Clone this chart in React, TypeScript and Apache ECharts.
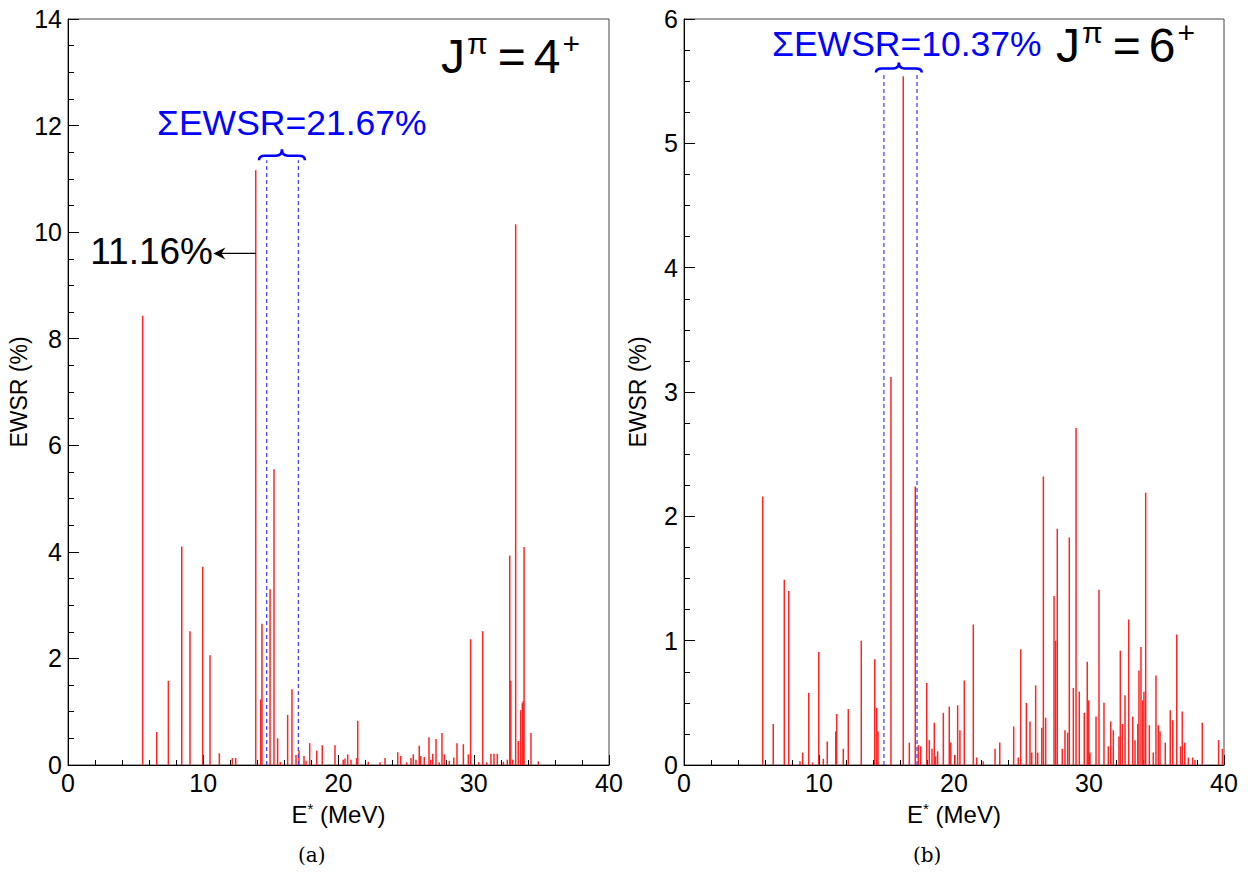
import React, { useEffect, useRef } from "react";
import * as echarts from "echarts";

// ---------- data ----------
// Panel (a): J^pi = 4+
const energies4 = [
  5.52, 6.56, 7.42, 8.41, 9.02, 9.96, 10.5, 11.19, 12.15, 12.4,
  13.88, 14.25, 14.34, 14.94, 15.23, 15.5, 15.7, 16.24, 16.56, 16.86,
  17.08, 17.45, 17.6, 17.87, 18.39, 18.8, 19.74, 20.35, 20.48, 20.68,
  20.92, 21.34, 21.42, 22.2, 23.07, 23.44, 24.38, 24.6, 25.04, 25.36,
  25.53, 25.73, 25.97, 26.08, 26.34, 26.69, 26.82, 26.97, 27.21, 27.45,
  27.65, 27.82, 28.19, 28.52, 28.76, 29.23, 29.6, 29.77, 30.37, 30.66,
  30.96, 31.27, 31.5, 31.74, 32.19, 32.48, 32.66, 32.74, 32.88, 33.1,
  33.29, 33.47, 33.59, 33.66, 33.72, 34.23, 34.77,
];
const ewsr4 = [
  8.43, 0.62, 1.58, 4.1, 2.51, 3.72, 2.06, 0.22, 0.13, 0.13,
  11.16, 1.23, 2.65, 3.3, 5.55, 0.5, 0.06, 0.94, 1.42, 0.19,
  0.27, 0.17, 0.08, 0.41, 0.27, 0.37, 0.37, 0.1, 0.12, 0.2,
  0.1, 0.13, 0.83, 0.06, 0.05, 0.13, 0.24, 0.17, 0.05, 0.13,
  0.2, 0.1, 0.36, 0.17, 0.15, 0.52, 0.1, 0.21, 0.49, 0.05,
  0.6, 0.2, 0.08, 0.14, 0.41, 0.39, 0.2, 2.36, 0.05, 2.51,
  0.05, 0.21, 0.21, 0.21, 0.06, 0.1, 3.93, 1.58, 0.1, 10.15,
  0.45, 1.03, 1.16, 1.2, 4.09, 0.6, 0.07,
];

// Panel (b): J^pi = 6+
const energies6 = [
  5.83, 6.61, 7.43, 7.76, 8.59, 8.79, 9.24, 9.53, 9.98, 10.32,
  10.61, 11.24, 11.31, 11.8, 12.17, 13.13, 14.13, 14.27, 14.37, 15.33,
  16.24, 16.69, 17.13, 17.36, 17.53, 17.98, 18.17, 18.37, 18.54, 18.64,
  18.79, 19.21, 19.65, 19.76, 20.07, 20.27, 20.44, 20.76, 21.43, 21.68,
  22.17, 23.04, 23.39, 24.42, 24.76, 24.94, 25.36, 25.63, 25.76, 26.05,
  26.2, 26.5, 26.62, 26.79, 27.41, 27.53, 27.65, 28.02, 28.22, 28.42,
  28.54, 28.84, 29.04, 29.28, 29.65, 29.87, 29.98, 30.07, 30.52, 30.74,
  31.11, 31.43, 31.61, 31.8, 32.22, 32.32, 32.47, 32.67, 32.94, 33.24,
  33.41, 33.61, 33.7, 33.85, 33.98, 34.07, 34.2, 34.47, 34.76, 34.96,
  35.13, 35.26, 35.65, 36.02, 36.2, 36.5, 36.79, 36.91, 37.09, 37.36,
  37.68, 37.85, 38.39, 39.6, 39.88,
];
const ewsr6 = [
  2.16, 0.33, 1.49, 1.4, 0.03, 0.1, 0.58, 0.02, 0.91, 0.05,
  0.19, 0.27, 0.41, 0.13, 0.45, 1.0, 0.85, 0.46, 0.27, 3.12,
  5.54, 0.18, 2.24, 0.16, 0.15, 0.66, 0.2, 0.13, 0.34, 0.07,
  0.11, 0.42, 0.47, 0.18, 0.08, 0.48, 0.28, 0.68, 1.13, 0.06,
  0.03, 0.13, 0.18, 0.31, 0.06, 0.93, 0.5, 0.35, 0.1, 0.64,
  0.1, 0.3, 2.32, 0.38, 1.36, 1.0, 1.9, 0.13, 0.28, 0.26,
  1.83, 0.62, 2.71, 0.59, 0.42, 0.83, 0.52, 0.1, 0.39, 1.41,
  0.5, 0.15, 0.35, 0.28, 0.23, 0.92, 0.33, 0.56, 1.17, 0.39,
  0.2, 0.33, 0.76, 0.95, 0.52, 0.59, 2.19, 0.32, 0.1, 0.72,
  0.32, 0.27, 0.18, 0.44, 0.36, 1.05, 0.15, 0.43, 0.18, 0.06,
  0.06, 0.04, 0.34, 0.2, 0.13,
];

// annotation values
const window4 = [14.69, 17.03];
const window6 = [14.81, 17.26];
const brace4 = [14.12, 17.52];
const brace6 = [14.22, 17.61];
const sumText4 = "ΣEWSR=21.67%";
const sumText6 = "ΣEWSR=10.37%";
const peakLabel4 = "11.16%";
const peakE4 = 13.88;
const arrowY4 = 9.6;
const arrowTipE4 = 10.75;
const xMax = 40;
const yMax4 = 14;
const yMax6 = 6;

const FONT = "'Liberation Sans', Arial, Helvetica, sans-serif";

function barRender(params: any, api: any) {
  const x = api.value(0);
  const y = api.value(1);
  const p0 = api.coord([x, 0]);
  const p1 = api.coord([x, y]);
  return {
    type: "line",
    shape: { x1: p0[0], y1: p0[1], x2: p1[0], y2: p1[1] },
    style: { stroke: "#ff2525", lineWidth: 1.5 },
  };
}

function bracePath(xl: number, xr: number, yb: number, yt: number) {
  const xc = (xl + xr) / 2;
  const ym = (yb + yt) / 2 + 1;
  const h = 6;
  return (
    `M${xl},${yb} Q${xl},${ym} ${xl + h},${ym} L${xc - h},${ym} ` +
    `Q${xc},${ym} ${xc},${yt} Q${xc},${ym} ${xc + h},${ym} ` +
    `L${xr - h},${ym} Q${xr},${ym} ${xr},${yb}`
  );
}

function makeAnnot(win: number[], br: number[], lineTop: number, braceDy: number, arrow: boolean) {
  return function (params: any, api: any) {
    const children: any[] = [];
    win.forEach((e) => {
      const a = api.coord([e, 0]);
      const b = api.coord([e, lineTop]);
      children.push({
        type: "line",
        shape: { x1: a[0], y1: a[1], x2: b[0], y2: b[1] },
        style: { stroke: "#3a3aff", lineWidth: 1.2, lineDash: [4, 3] },
      });
    });
    const l = api.coord([br[0], lineTop]);
    const r = api.coord([br[1], lineTop]);
    children.push({
      type: "path",
      shape: { pathData: bracePath(l[0], r[0], l[1], l[1] - braceDy) },
      style: { stroke: "#0000ff", fill: "none", lineWidth: 2.6 },
    });
    if (arrow) {
      const s = api.coord([peakE4, arrowY4]);
      const t = api.coord([arrowTipE4, arrowY4]);
      children.push({
        type: "line",
        shape: { x1: s[0], y1: s[1], x2: t[0] + 6, y2: t[1] },
        style: { stroke: "#000", lineWidth: 1.2 },
      });
      children.push({
        type: "polygon",
        shape: {
          points: [
            [t[0], t[1]],
            [t[0] + 12, t[1] - 6],
            [t[0] + 8, t[1]],
            [t[0] + 12, t[1] + 6],
          ],
        },
        style: { fill: "#000" },
      });
    }
    return { type: "group", children };
  };
}

const axisCommon = {
  axisLine: { show: true, lineStyle: { color: "#000", width: 1 } },
  splitLine: { show: false },
};

function xAxisFor(gridIndex: number) {
  return {
    type: "value",
    gridIndex,
    min: 0,
    max: xMax,
    interval: 10,
    ...axisCommon,
    axisTick: { show: true, inside: true, length: 10, lineStyle: { color: "#000" } },
    minorTick: { show: true, splitNumber: 5, length: 5, lineStyle: { color: "#000" } },
    axisLabel: { fontFamily: FONT, fontSize: 25, color: "#000", margin: 5 },
    name: "{a|E}{s|*}{a| (MeV)}",
    nameLocation: "middle",
    nameGap: 36,
    nameTextStyle: {
      rich: {
        a: { fontFamily: FONT, fontSize: 24, color: "#000" },
        s: { fontFamily: FONT, fontSize: 15, color: "#000", verticalAlign: "top", padding: [0, 0, 12, 0] },
      },
    },
  };
}

function yAxisFor(gridIndex: number, max: number, interval: number) {
  return {
    type: "value",
    gridIndex,
    min: 0,
    max,
    interval,
    ...axisCommon,
    axisTick: { show: true, inside: true, length: 11, lineStyle: { color: "#000" } },
    minorTick: { show: true, splitNumber: 4, length: 6, lineStyle: { color: "#000" } },
    axisLabel: { fontFamily: FONT, fontSize: 25, color: "#000", margin: 6 },
    name: "EWSR (%)",
    nameLocation: "middle",
    nameGap: 35,
    nameTextStyle: { fontFamily: FONT, fontSize: 23, color: "#000" },
  };
}

const jRich = {
  b: { fontFamily: FONT, fontSize: 48, fill: "#000", color: "#000" },
  e: { fontFamily: FONT, fontSize: 48, fill: "#000", color: "#000", padding: [0, 8, 0, 8] },
  p: { fontFamily: FONT, fontSize: 30, fill: "#000", color: "#000", verticalAlign: "top", padding: [0, 2, 26, 2] },
};

export default function App() {
  const ref = useRef<HTMLDivElement>(null);
  useEffect(() => {
    document.body.style.margin = "0";
    const chart = echarts.init(ref.current!, null, { renderer: "svg" });
    const data4 = energies4.map((e, i) => [e, ewsr4[i]]);
    const data6 = energies6.map((e, i) => [e, ewsr6[i]]);
    chart.setOption({
      animation: false,
      backgroundColor: "#fff",
      grid: [
        { left: 68, top: 19, width: 541, height: 746, show: true, borderColor: "#444", borderWidth: 1, backgroundColor: "transparent" },
        { left: 684, top: 19, width: 540, height: 746, show: true, borderColor: "#444", borderWidth: 1, backgroundColor: "transparent" },
      ],
      xAxis: [xAxisFor(0), xAxisFor(1)],
      yAxis: [yAxisFor(0, yMax4, 2), yAxisFor(1, yMax6, 1)],
      series: [
        { type: "custom", xAxisIndex: 0, yAxisIndex: 0, data: data4, renderItem: barRender, encode: { x: 0, y: 1 }, clip: true },
        { type: "custom", xAxisIndex: 1, yAxisIndex: 1, data: data6, renderItem: barRender, encode: { x: 0, y: 1 }, clip: true },
        { type: "custom", xAxisIndex: 0, yAxisIndex: 0, data: [[0, 0]], renderItem: makeAnnot(window4, brace4, 11.35, 11, true), silent: true, z: 5 },
        { type: "custom", xAxisIndex: 1, yAxisIndex: 1, data: [[0, 0]], renderItem: makeAnnot(window6, brace6, 5.57, 10, false), silent: true, z: 5 },
      ],
      graphic: [
        { type: "text", left: 157, top: 105, style: { text: sumText4, fontFamily: FONT, fontSize: 35.5, fill: "#0000ff" } },
        { type: "text", left: 772, top: 26, style: { text: sumText6, fontFamily: FONT, fontSize: 35.5, fill: "#0000ff" } },
        { type: "text", right: 1248 - 213, top: 233, style: { text: peakLabel4, fontFamily: FONT, fontSize: 37, fill: "#000" } },
        { type: "text", left: 441, top: 28, style: { text: "{b|J}{p|π}{e|=}{b|4}{p|+}", rich: jRich } },
        { type: "text", left: 1056, top: 17, style: { text: "{b|J}{p|π}{e|=}{b|6}{p|+}", rich: jRich } },
        { type: "text", left: 298, top: 845, style: { text: "(a)", fontFamily: "'DejaVu Serif', 'Liberation Serif', serif", fontSize: 20, fill: "#000" } },
        { type: "text", left: 913, top: 845, style: { text: "(b)", fontFamily: "'DejaVu Serif', 'Liberation Serif', serif", fontSize: 20, fill: "#000" } },
      ],
    });
    return () => chart.dispose();
  }, []);
  return <div ref={ref} style={{ width: 1248, height: 875 }} />;
}
